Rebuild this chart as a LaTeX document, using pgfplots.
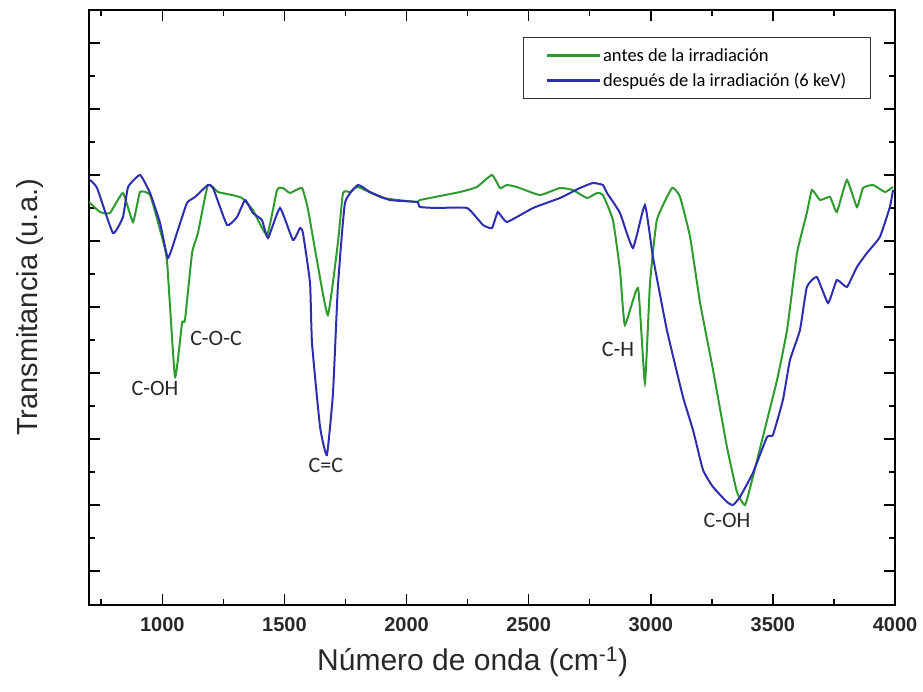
\documentclass[border=0pt]{standalone}
\usepackage{fontspec}
\setmainfont{Liberation Sans}
\newfontfamily\carlito{Carlito}
\usepackage{pgfplots}
\pgfplotsset{compat=1.18}
\definecolor{cgreen}{RGB}{45,155,45}
\definecolor{cblue}{RGB}{45,45,175}
\definecolor{txt}{RGB}{40,40,40}
\begin{document}
\begin{tikzpicture}
\begin{axis}[
  scale only axis,
  width=806pt, height=595pt,
  xmin=700, xmax=4000, ymin=0, ymax=595,
  axis line style={line width=1.8pt},
  xtick={1000,1500,...,4000},
  minor xtick={750,1250,...,3750},
  ytick={34,100,166,232,298,364,430,496,562},
  minor ytick={67,133,199,265,331,397,463,529},
  yticklabels={},
  major tick length=11pt, minor tick length=6pt,
  every tick/.style={black, line width=1.5pt},
  /pgf/number format/assume math mode=true,
  /pgf/number format/1000 sep={},
  xticklabel style={font=\bfseries\fontsize{20}{24}\selectfont, text=txt, yshift=-9pt},
  xlabel={Número de onda (cm\textsuperscript{-1})},
  ylabel={Transmitancia (u.a.)},
  xlabel style={at={(axis description cs:0.476,-0.0958)}, anchor=center, font=\fontsize{30}{36}\selectfont, text=txt},
  ylabel style={at={(axis description cs:-0.073,0.5)}, anchor=center, rotate=0, font=\fontsize{29}{34}\selectfont, text=txt},
  legend style={at={(axis description cs:0.538,0.955)}, anchor=north west, draw=black!80, line width=1pt,
    font=\carlito\fontsize{18.5}{22}\selectfont, inner xsep=22pt, inner ysep=9pt, row sep=6pt},
  legend cell align=left,
  legend image code/.code={\draw[#1, line width=3pt] (0pt,0pt) -- (53pt,0pt);},
]
\addplot[cgreen, line width=2pt, smooth, tension=0.25] coordinates {
(700,403) (745,393) (786,392) (839,412) (880,383) (909,413) (950,410) (991,375)
(1019,345) (1052,228) (1081,282) (1093,285) (1122,352) (1146,372) (1187,420)
(1228,413) (1285,410) (1326,407) (1371,395) (1429,370) (1470,415) (1494,417)
(1523,412) (1572,417) (1597,395) (1633,345) (1678,290) (1719,362) (1740,412)
(1769,413) (1801,418) (1904,407) (2043,403) (2055,405) (2219,413) (2288,418)
(2350,430) (2383,417) (2411,420) (2452,418) (2546,410) (2628,417) (2681,415)
(2739,407) (2780,412) (2804,410) (2845,385) (2874,335) (2894,280) (2948,317)
(2976,222) (2997,322) (3025,385) (3087,417) (3120,408) (3161,368) (3202,302)
(3255,235) (3312,158) (3353,113) (3386,100) (3418,128) (3459,168) (3517,225)
(3558,275) (3599,352) (3639,392) (3660,415) (3693,405) (3734,408) (3762,393)
(3803,425) (3844,398) (3869,417) (3910,420) (3959,413) (3992,418)
};
\addlegendentry{antes de la irradiación}
\addplot[cblue, line width=2pt, smooth, tension=0.25] coordinates {
(704,425) (733,417) (798,372) (839,388) (860,418) (909,430) (950,412) (991,382)
(1023,347) (1060,372) (1101,402) (1134,408) (1187,420) (1208,417) (1265,380)
(1306,388) (1339,405) (1371,392) (1408,385) (1433,367) (1482,397) (1535,365)
(1564,377) (1576,372) (1605,322) (1613,262) (1646,178) (1674,150) (1699,212)
(1719,318) (1748,402) (1801,420) (1850,413) (1932,405) (2043,403) (2055,398)
(2125,397) (2248,397) (2313,380) (2350,377) (2374,393) (2411,383) (2518,397)
(2628,407) (2710,417) (2763,422) (2804,420) (2821,412) (2874,392) (2927,357)
(2976,400) (3009,348) (3066,275) (3132,208) (3173,175) (3214,135) (3255,118)
(3312,103) (3337,100) (3365,108) (3418,132) (3476,168) (3500,170) (3541,205)
(3570,245) (3611,275) (3639,318) (3680,328) (3726,302) (3762,325) (3803,318)
(3844,338) (3885,352) (3938,368) (3979,398) (3992,415)
};
\addlegendentry{después de la irradiación (6 keV)}
\node[font=\carlito\fontsize{22}{26}\selectfont, text=txt] at (axis cs:970,217) {C-OH};
\node[font=\carlito\fontsize{22}{26}\selectfont, text=txt] at (axis cs:1220,267) {C-O-C};
\node[font=\carlito\fontsize{22}{26}\selectfont, text=txt] at (axis cs:1670,140) {C=C};
\node[font=\carlito\fontsize{22}{26}\selectfont, text=txt] at (axis cs:2866,256) {C-H};
\node[font=\carlito\fontsize{22}{26}\selectfont, text=txt] at (axis cs:3312,85) {C-OH};
\end{axis}
\pgfresetboundingbox
\path (current axis.south west) ++(-89pt,-86pt) rectangle ++(923pt,691pt);
\end{tikzpicture}
\end{document}
